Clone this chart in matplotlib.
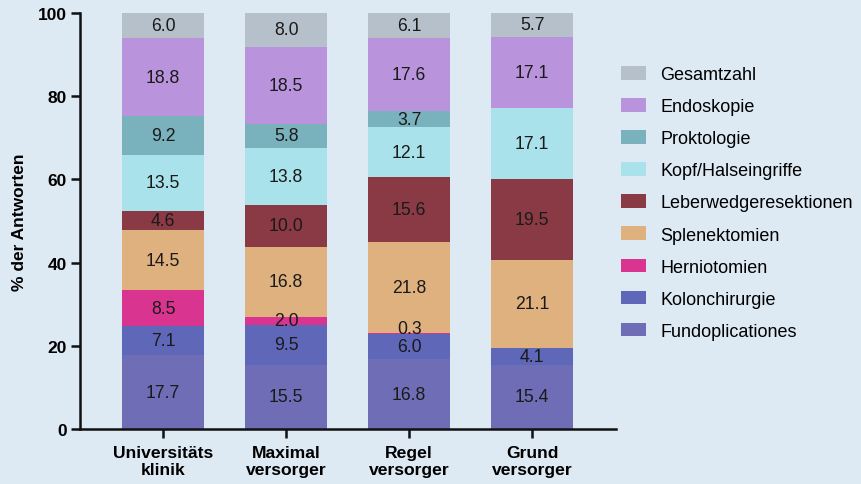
import matplotlib
matplotlib.use("Agg")
from matplotlib import pyplot as plt
import numpy as np

plt.rcParams['font.family'] = ['Liberation Sans', 'DejaVu Sans']

categories = ['Universitäts\nklinik', 'Maximal\nversorger', 'Regel\nversorger', 'Grund\nversorger']

# bottom to top
series = ['Fundoplicationes', 'Kolonchirurgie', 'Herniotomien', 'Splenektomien',
          'Leberwedgeresektionen', 'Kopf/Halseingriffe', 'Proktologie', 'Endoskopie',
          'Gesamtzahl']
fundoplicationes = [17.7, 15.5, 16.8, 15.4]
kolonchirurgie = [7.1, 9.5, 6.0, 4.1]
herniotomien = [8.5, 2.0, 0.3, 0.0]
splenektomien = [14.5, 16.8, 21.8, 21.1]
leberwedge = [4.6, 10.0, 15.6, 19.5]
kopf_hals = [13.5, 13.8, 12.1, 17.1]
proktologie = [9.2, 5.8, 3.7, 0.0]
endoskopie = [18.8, 18.5, 17.6, 17.1]
gesamtzahl = [6.0, 8.0, 6.1, 5.7]

values = [fundoplicationes, kolonchirurgie, herniotomien, splenektomien, leberwedge,
          kopf_hals, proktologie, endoskopie, gesamtzahl]
colors = ['#6e6db5', '#5f67b9', '#d9348f', '#dfb17f', '#8a3a44',
          '#a9e2ea', '#79b2bc', '#b994dc', '#b5c0cb']

bg = '#dde9f3'
fig = plt.figure(figsize=(8.62, 4.85), dpi=100, facecolor=bg)
ax = fig.add_axes([0.0928, 0.1134, 0.6218, 0.858])
ax.set_facecolor(bg)

x = np.arange(len(categories))
bottom = np.zeros(len(categories))
handles = []
for name, vals, col in zip(series, values, colors):
    vals = np.array(vals)
    b = ax.bar(x, vals, bottom=bottom, width=0.667, color=col, label=name)
    handles.append(b)
    for xi, v, bo in zip(x, vals, bottom):
        if v > 0:
            # very thin segments: lift the label a little so it clears the one below
            yoff = 1.3 if v < 1 else 0
            ax.text(xi, bo + v / 2 + yoff, f'{v:.1f}', ha='center', va='center',
                    fontsize=12.7, color='#1a1a1a')
    bottom += vals

ax.set_xlim(-0.675, 3.68)
ax.set_ylim(0, 100)
ax.set_yticks([0, 20, 40, 60, 80, 100])
ax.set_xticks(x)
ax.set_xticklabels(categories, fontweight='bold', fontsize=12.6, linespacing=1.15)
for lbl in ax.get_yticklabels():
    lbl.set_fontweight('bold')
    lbl.set_fontsize(12.5)
ax.set_ylabel('% der Antworten', fontweight='bold', fontsize=12.5, labelpad=8)
for s in ['top', 'right']:
    ax.spines[s].set_visible(False)
for s in ['left', 'bottom']:
    ax.spines[s].set_linewidth(1.8)
    ax.spines[s].set_color('#111111')
ax.tick_params(axis='both', width=1.8, length=6.5, pad=3, color='#111111')
ax.tick_params(axis='x', pad=5)

fig.legend(handles[::-1], series[::-1], loc='upper left', bbox_to_anchor=(0.702, 0.895),
           frameon=False, fontsize=13, handlelength=1.39, handleheight=0.78,
           labelspacing=0.83, handletextpad=0.78)

fig.savefig('out.png', dpi=100, facecolor=bg)
